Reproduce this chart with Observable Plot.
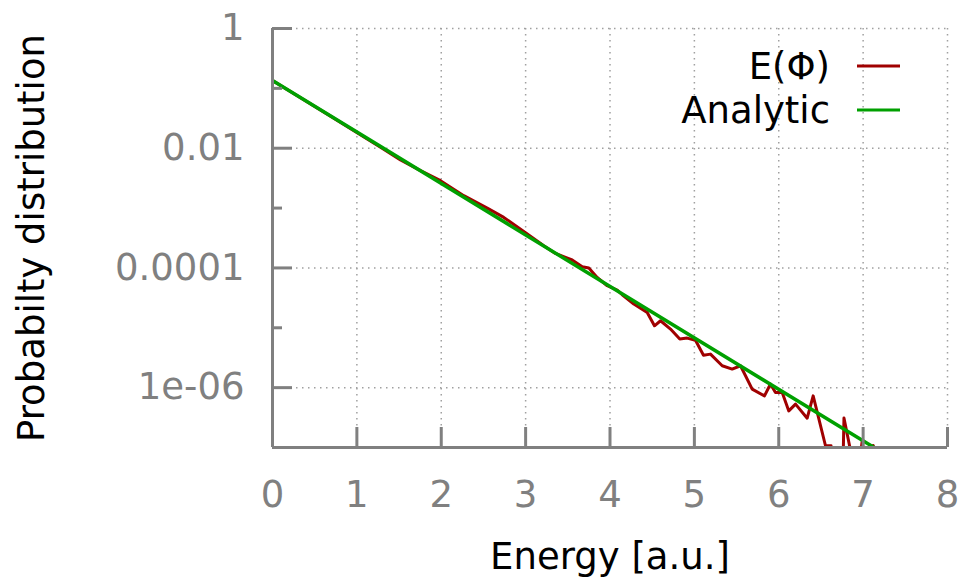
<!DOCTYPE html>
<html>
<head>
<meta charset="utf-8">
<script src="https://cdn.jsdelivr.net/npm/d3@7"></script>
<script src="https://cdn.jsdelivr.net/npm/@observablehq/plot@0.6"></script>
<style>
  body { margin: 0; background: white; }
  #wrap { position: relative; width: 961px; height: 580px; font-family: "DejaVu Sans", sans-serif; }
  #legend { position: absolute; left: 0; top: 0; pointer-events: none; }
</style>
</head>
<body>
<div id="wrap"></div>
<script>
// ---- data ----
const energy = [0.000, 0.687, 1.280, 1.517, 1.754, 1.991, 2.267, 2.545, 2.741, 2.999,
  3.215, 3.354, 3.473, 3.552, 3.671, 3.749, 3.848, 3.967, 4.085, 4.145,
  4.282, 4.441, 4.527, 4.599, 4.717, 4.827, 4.915, 5.013, 5.108, 5.191,
  5.330, 5.448, 5.547, 5.685, 5.831, 5.902, 5.961, 6.041, 6.119, 6.199,
  6.337, 6.408, 6.554, 6.620, 6.630, 6.765, 6.773, 6.850, 6.975, 6.990,
  7.000, 7.110, 7.120, 7.130];
const probability = [0.135, 0.0344, 0.0104, 0.00637, 0.00422, 0.00287, 0.00161, 0.00100, 0.000698, 0.000388,
  0.000235, 0.000175, 0.000150, 0.000136, 0.000105, 0.0000995, 0.0000693, 0.0000504, 0.0000427, 0.0000356,
  0.0000249, 0.0000180, 0.0000108, 0.0000131, 0.00000951, 0.00000647, 0.00000673, 0.00000618, 0.00000347, 0.00000363,
  0.00000232, 0.00000204, 0.00000232, 9.44e-7, 7.29e-7, 1.15e-6, 8.28e-7, 8.28e-7, 4.09e-7, 5.30e-7,
  3.09e-7, 7.29e-7, 1.07e-7, 1.07e-7, 5e-8, 9e-8, 3.1e-7, 9e-8, 9e-8, 1.3e-7,
  9e-8, 9e-8, 1.08e-7, 9e-8];
const analyticEnergy = [0, 7.13];
const analyticProbability = [0.135, 1e-7];

const xTicks = [0, 1, 2, 3, 4, 5, 6, 7, 8];
const yMajor = [1, 0.01, 0.0001, 1e-6];
const yMajorLabels = ["1", "0.01", "0.0001", "1e-06"];
const yMinor = [0.1, 0.001, 1e-5, 1e-7];
const seriesNames = ["E(Φ)", "Analytic"];
const seriesColors = ["#a00000", "#00a000"];
const xLabel = "Energy [a.u.]";
const yLabel = "Probabilty distribution";

const measured = energy.map((e, i) => ({e, p: probability[i]}));
const analytic = analyticEnergy.map((e, i) => ({e, p: analyticProbability[i]}));

const axisColor = "#808080";
const gridStyle = {stroke: "#a0a0a0", strokeOpacity: 1, strokeWidth: 1.5, strokeDasharray: "1.5,4.5"};

const chart = Plot.plot({
  width: 961,
  height: 580,
  marginLeft: 272,
  marginRight: 14,
  marginTop: 28,
  marginBottom: 133,
  style: {fontFamily: "DejaVu Sans", fontSize: "37px", background: "white", overflow: "visible"},
  x: {domain: [0, 8], label: null},
  y: {type: "log", domain: [1e-7, 1], label: null},
  marks: [
    Plot.gridX(xTicks.slice(1), gridStyle),
    Plot.gridY(yMajor, gridStyle),
    Plot.line(measured, {x: "e", y: "p", stroke: seriesColors[0], strokeWidth: 3, clip: true}),
    Plot.line(analytic, {x: "e", y: "p", stroke: seriesColors[1], strokeWidth: 3.5, clip: true}),
    Plot.ruleX([0], {stroke: axisColor, strokeWidth: 3}),
    Plot.ruleY([1e-7], {stroke: axisColor, strokeWidth: 3}),
    Plot.axisY(yMajor, {tickSize: 20, dx: 20, text: null, stroke: axisColor, strokeWidth: 3, label: null}),
    Plot.axisY(yMinor, {tickSize: 10, dx: 10, text: null, stroke: axisColor, strokeWidth: 3, label: null}),
    Plot.axisX(xTicks, {tickSize: 20, dy: -20, text: null, stroke: axisColor, strokeWidth: 3, label: null}),
    Plot.axisY(yMajor, {tickSize: 0, tickPadding: 28, fontSize: 37, color: axisColor, label: null,
      tickFormat: d => yMajorLabels[yMajor.indexOf(d)]}),
    Plot.axisX(xTicks, {tickSize: 0, tickPadding: 33, fontSize: 37, color: axisColor, label: null,
      tickFormat: d => String(d)}),
    Plot.text([xLabel], {frameAnchor: "bottom", dy: 110, text: d => d, fontSize: 37, fill: "black", lineAnchor: "middle"}),
    Plot.text([yLabel], {frameAnchor: "left", dx: -240, rotate: -90, text: d => d, fontSize: 37, fill: "black", lineAnchor: "middle", textAnchor: "middle"})
  ]
});

const wrap = document.getElementById("wrap");
wrap.appendChild(chart);

// legend overlay (inside the plot area, top right)
const ns = "http://www.w3.org/2000/svg";
const leg = document.createElementNS(ns, "svg");
leg.setAttribute("id", "legend");
leg.setAttribute("width", 961);
leg.setAttribute("height", 580);
seriesNames.forEach((name, i) => {
  const cy = 66 + i * 44;
  const t = document.createElementNS(ns, "text");
  t.setAttribute("x", 830);
  t.setAttribute("y", cy);
  t.setAttribute("dy", "0.35em");
  t.setAttribute("text-anchor", "end");
  t.setAttribute("font-family", "DejaVu Sans");
  t.setAttribute("font-size", 37);
  t.setAttribute("fill", "black");
  t.textContent = name;
  leg.appendChild(t);
  const l = document.createElementNS(ns, "line");
  l.setAttribute("x1", 857);
  l.setAttribute("x2", 900);
  l.setAttribute("y1", cy);
  l.setAttribute("y2", cy);
  l.setAttribute("stroke", seriesColors[i]);
  l.setAttribute("stroke-width", 3);
  leg.appendChild(l);
});
wrap.appendChild(leg);
</script>
</body>
</html>
